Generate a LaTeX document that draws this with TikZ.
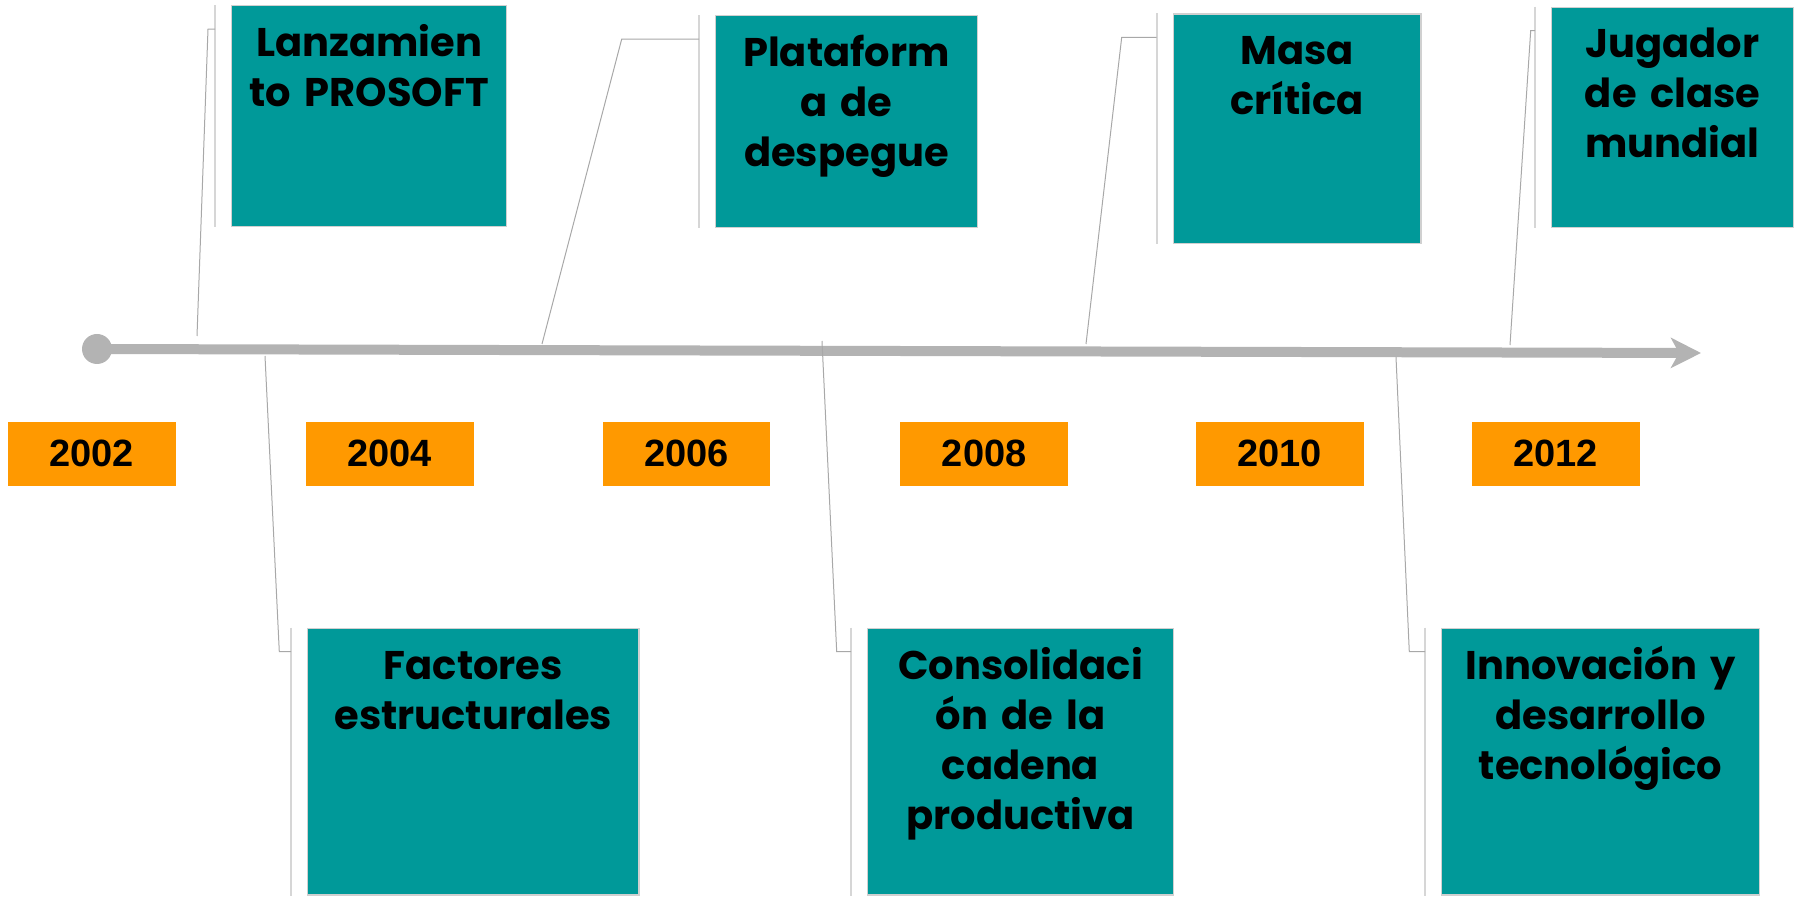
\documentclass[tikz,border=0pt]{standalone}
\usepackage{fontspec}
\newfontfamily\boxfont{Poppins}
\newfontfamily\yearfont{Liberation Sans}
\usetikzlibrary{arrows.meta,fit,calc}
\definecolor{teal1}{HTML}{009999}
\definecolor{orange1}{HTML}{FF9900}
\definecolor{tlgray}{HTML}{B3B3B3}
\definecolor{brgray}{HTML}{D6D6D6}
\definecolor{cngray}{HTML}{A8A8A8}
\definecolor{bdgray}{HTML}{D0D0D0}
\begin{document}
\begin{tikzpicture}[x=0.5pt,y=-0.5pt,
  tbox/.style={draw=bdgray,line width=0.6pt,fill=teal1,inner sep=0pt,rectangle},
  ttext/.style={anchor=base,align=center,text width=150pt,inner sep=0pt,
    font=\boxfont\bfseries\fontsize{20}{25}\selectfont},
  ybox/.style={fill=orange1,inner sep=0pt,rectangle,minimum width=83.85pt,minimum height=32pt,
    font=\yearfont\bfseries\fontsize{19}{22}\selectfont},
  bracket/.style={draw=brgray,line width=1pt},
  conn/.style={draw=cngray,line width=0.5pt},
  tl/.style={draw=tlgray,line width=5pt,-{Stealth[length=15pt,width=15pt,inset=4pt]}}
]
\useasboundingbox (0,0) rectangle (1796,898);

% timeline
\node[circle,fill=tlgray,minimum size=15pt,inner sep=0pt] (start) at (97,349) {};
\coordinate (tend) at (1701,353);
\draw[tl] (start.center) -- (tend);

% year boxes
\node[ybox] (y2002) at (91.85,453.7) {2002};
\node[ybox] (y2004) at (389.85,453.7) {2004};
\node[ybox] (y2006) at (686.35,453.7) {2006};
\node[ybox] (y2008) at (984.15,453.7) {2008};
\node[ybox] (y2010) at (1279.65,453.7) {2010};
\node[ybox] (y2012) at (1555.65,453.7) {2012};

% top boxes
\node[tbox,fit={(231.7,5.7) (506.7,226.7)}] (b1) {};
\node[tbox,fit={(715.7,15.7) (977.3,227.3)}] (b2) {};
\node[tbox,fit={(1173.3,14) (1421,243.3)}] (b3) {};
\node[tbox,fit={(1551.7,7.3) (1793.3,227.7)}] (b4) {};
% bottom boxes
\node[tbox,fit={(307.7,628.3) (639,895)}] (b5) {};
\node[tbox,fit={(867.7,628.3) (1173.3,895)}] (b6) {};
\node[tbox,fit={(1441.7,628.3) (1759.3,895)}] (b7) {};

% texts
\node[ttext] (t1) at ($(b1.north)+(0,51)$) {Lanzamien\\to PROSOFT};
\node[ttext] (t2) at ($(b2.north)+(0,51)$) {Plataform\\a de\\despegue};
\node[ttext] (t3) at ($(b3.north)+(0,51)$) {Masa\\crítica};
\node[ttext] (t4) at ($(b4.north)+(0,51)$) {Jugador\\de clase\\mundial};
\node[ttext] (t5) at ($(b5.north)+(0,52)$) {Factores\\estructurales};
\node[ttext] (t6) at ($(b6.north)+(0,52)$) {Consolidaci\\ón de la\\cadena\\productiva};
\node[ttext] (t7) at ($(b7.north)+(0,52)$) {Innovación y\\desarrollo\\tecnológico};

% brackets and connectors
\foreach \b/\stub/\tx/\ty in {b1/208/197/336, b2/621.7/542/344, b3/1121.7/1086/344, b4/1530.7/1510/345,
                              b5/279.3/265/356, b6/836.7/822/341, b7/1409.3/1396/357}{
  \coordinate (\b-bt) at ($(\b.north west)+(-16,0)$);
  \coordinate (\b-bb) at ($(\b.south west)+(-16,0)$);
  \coordinate (\b-hk) at ($(\b.north west)+(-16,24)$);
  \coordinate (\b-st) at (\stub,0 |- \b-hk);
  \coordinate (\b-tp) at (\tx,\ty);
  \draw[bracket] (\b-bt) -- (\b-bb);
  \draw[conn] (\b-tp) -- (\b-st) -- (\b-hk);
}
\end{tikzpicture}
\end{document}
